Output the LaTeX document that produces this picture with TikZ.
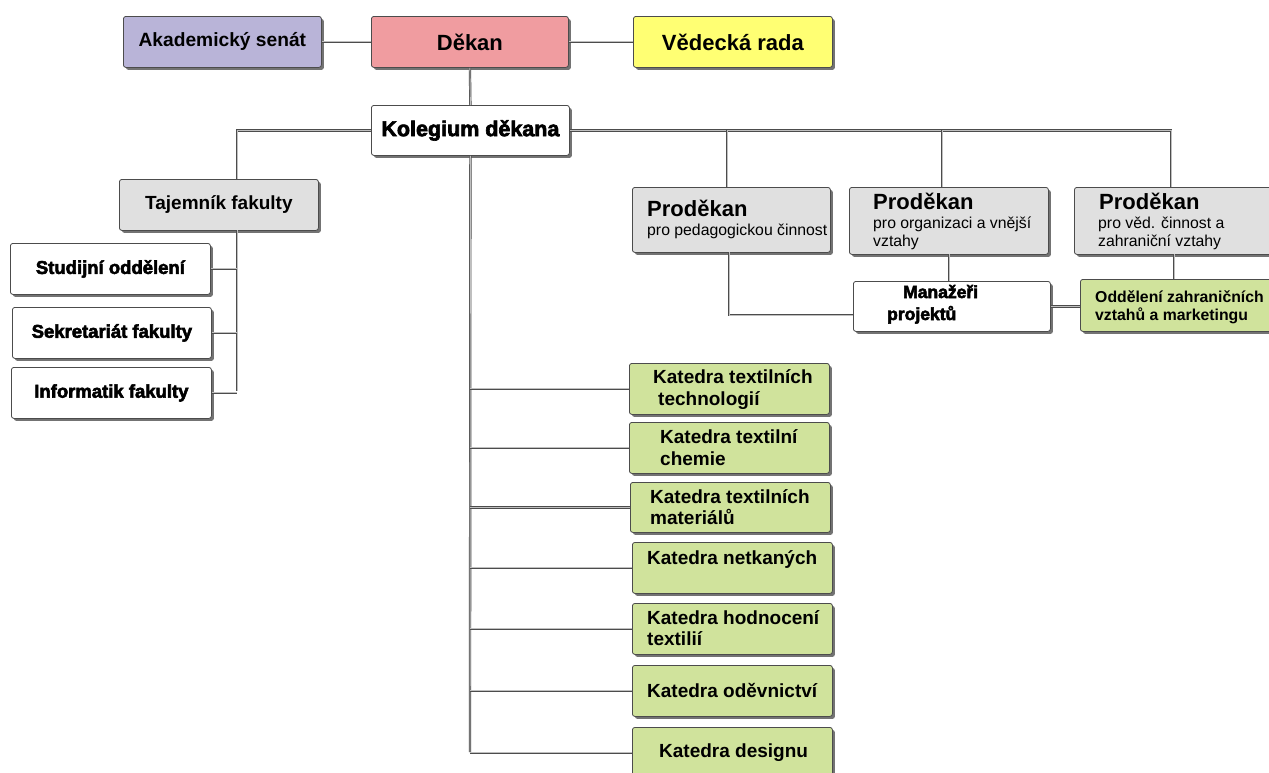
\documentclass[tikz,border=0pt]{standalone}
\usepackage{fontspec}
\setmainfont{Liberation Sans}
\newfontfamily\heavyfont{Liberation Sans}[BoldFeatures={FakeBold=3}]
\usetikzlibrary{shadows}
\definecolor{cSenat}{HTML}{B9B4D8}
\definecolor{cDekan}{HTML}{F09CA0}
\definecolor{cVed}{HTML}{FFFF73}
\definecolor{cGray}{HTML}{E0E0E0}
\definecolor{cGreen}{HTML}{D0E39C}
\begin{document}
\begin{tikzpicture}[x=1pt,y=-1pt,
  box/.style={draw=black!70, line width=0.8pt, rounded corners=2.5pt, anchor=north west, inner sep=0pt,
     drop shadow={shadow xshift=2.5pt, shadow yshift=-2.5pt, fill=black!55, opacity=1}},
  conn/.style={draw=black!70, line width=0.7pt, double=black!25, double distance=0.9pt},
  fb/.style={font=\bfseries\fontsize{#1}{#1}\selectfont, inner sep=0pt},
  fh/.style={font=\heavyfont\bfseries\fontsize{#1}{#1}\selectfont, inner sep=0pt},
  fr/.style={font=\fontsize{#1}{#1}\selectfont, inner sep=0pt},
  tl/.style={anchor=base west}]
\useasboundingbox (0,0) rectangle (1269,772);
\clip (0,0) rectangle (1269,772);
\fill[white] (0,0) rectangle (1269,772);

% top row
\node[box, fill=cSenat, minimum width=198pt, minimum height=51pt] (senat) at (123,16) {};
\node[box, fill=cDekan, minimum width=197pt, minimum height=51pt] (dekan) at (371,16) {};
\node[box, fill=cVed, minimum width=199pt, minimum height=51pt] (ved) at (633,16) {};
\node[box, fill=white, minimum width=198pt, minimum height=50pt] (kol) at (371,105) {};
\node[fb=19.2] (senatT) at (senat) {Akademický senát};
\node[fb=22] (dekanT) at (dekan) {Děkan};
\node[fb=22] (vedT) at (ved) {Vědecká rada};
\node[fh=21.5] (kolT) at (kol) {Kolegium děkana};

% left branch
\node[box, fill=cGray, minimum width=199pt, minimum height=51pt] (taj) at (119,179) {};
\node[box, fill=white, minimum width=200pt, minimum height=51pt] (stud) at (10,243) {};
\node[box, fill=white, minimum width=199pt, minimum height=51pt] (sekr) at (12,307) {};
\node[box, fill=white, minimum width=200pt, minimum height=51pt] (info) at (11,367) {};
\node[fb=19] (tajT) at (taj) {Tajemník fakulty};
\node[fh=18.5] (studT) at (stud) {Studijní oddělení};
\node[fh=18.5] (sekrT) at (sekr) {Sekretariát fakulty};
\node[fh=18.5] (infoT) at (info) {Informatik fakulty};

% prodekani
\node[box, fill=cGray, minimum width=198pt, minimum height=65pt] (p1) at (632,187) {};
\node[box, fill=cGray, minimum width=199pt, minimum height=67pt] (p2) at (849,187) {};
\node[box, fill=cGray, minimum width=216pt, minimum height=67pt] (p3) at (1074,187) {};
\node[fb=22, tl] (p1a) at (647,216) {Proděkan};
\node[fr=15.8, tl] (p1b) at (647,235) {pro pedagogickou činnost};
\node[fb=22, tl] (p2a) at (873,209) {Proděkan};
\node[fr=15.8, tl] (p2b) at (873,228) {pro organizaci a vnější};
\node[fr=15.8, tl] (p2c) at (873,246) {vztahy};
\node[fb=22, tl] (p3a) at (1099,209) {Proděkan};
\node[fr=15.8, tl] (p3b) at (1098,228) {pro věd. činnost a};
\node[fr=15.8, tl] (p3c) at (1098,246) {zahraniční vztahy};

\node[box, fill=white, minimum width=197pt, minimum height=50pt] (man) at (853,281) {};
\node[box, fill=cGreen, minimum width=210pt, minimum height=52pt] (odd) at (1080,279) {};
\node[fh=17.5, tl] (manA) at (903,298) {Manažeři};
\node[fh=17.5, tl] (manB) at (887,320) {projektů};
\node[fb=15.8, tl] (oddA) at (1095,302) {Oddělení zahraničních};
\node[fb=15.8, tl] (oddB) at (1095,320) {vztahů a marketingu};

% katedry
\node[box, fill=cGreen, minimum width=200pt, minimum height=51pt] (k1) at (629,363) {};
\node[box, fill=cGreen, minimum width=200pt, minimum height=51pt] (k2) at (629,422) {};
\node[box, fill=cGreen, minimum width=200pt, minimum height=50pt] (k3) at (630,482) {};
\node[box, fill=cGreen, minimum width=200pt, minimum height=51pt] (k4) at (632,542) {};
\node[box, fill=cGreen, minimum width=200pt, minimum height=51pt] (k5) at (632,603) {};
\node[box, fill=cGreen, minimum width=200pt, minimum height=51pt] (k6) at (632,665) {};
\node[box, fill=cGreen, minimum width=200pt, minimum height=51pt] (k7) at (632,727) {};
\node[fb=19, tl] (k1a) at (653,383) {Katedra textilních};
\node[fb=19, tl] (k1b) at (658,405) {technologií};
\node[fb=19, tl] (k2a) at (660,443) {Katedra textilní};
\node[fb=19, tl] (k2b) at (660,465) {chemie};
\node[fb=19, tl] (k3a) at (650,503) {Katedra textilních};
\node[fb=19, tl] (k3b) at (650,524) {materiálů};
\node[fb=19, tl] (k4a) at (647,564) {Katedra netkaných};
\node[fb=19, tl] (k5a) at (647,624) {Katedra hodnocení};
\node[fb=19, tl] (k5b) at (647,645) {textilií};
\node[fb=19, tl] (k6a) at (647,697) {Katedra oděvnictví};
\node[fb=19, tl] (k7a) at (659,757) {Katedra designu};

% helper coordinates
\coordinate (tj) at (237,179);
\coordinate (tjs) at (237,230);
\coordinate (tje) at (237,391);
\coordinate (r1) at (727,187);
\coordinate (r2) at (942,187);
\coordinate (r3) at (1171,187);
\coordinate (kb) at (470,752);
\coordinate (p1s) at (729,252);
\coordinate (m1) at (853,315);
\coordinate (p2s) at (949,254);
\coordinate (m2) at (949,281);
\coordinate (p3s) at (1174,254);

% connectors
\draw[conn] (senat.east) -- (dekan.west);
\draw[conn] (dekan.east) -- (ved.west);
\draw[conn] (dekan.south) -- (kol.north);
\draw[conn] (kol.west) -| (tj);
\draw[conn] (tjs) -- (tje);
\draw[conn] (stud.east) -- (stud.east -| tjs);
\draw[conn] (sekr.east) -- (sekr.east -| tjs);
\draw[conn] (info.east) -- (info.east -| tjs);
\draw[conn] (kol.east) -| (r3);
\draw[conn] (r1 |- kol.east) -- (r1);
\draw[conn] (r2 |- kol.east) -- (r2);
\draw[conn] (kol.south) -- (kb);
\foreach \k in {k1,k2,k3,k4,k5,k6,k7} {\draw[conn] (\k.west -| kb) -- (\k.west);}
\draw[conn] (p1s) |- (m1);
\draw[conn] (p2s) -- (m2);
\draw[conn] (man.east) -- (man.east -| odd.west);
\draw[conn] (p3s) -- (p3s |- odd.north);
\end{tikzpicture}
\end{document}
